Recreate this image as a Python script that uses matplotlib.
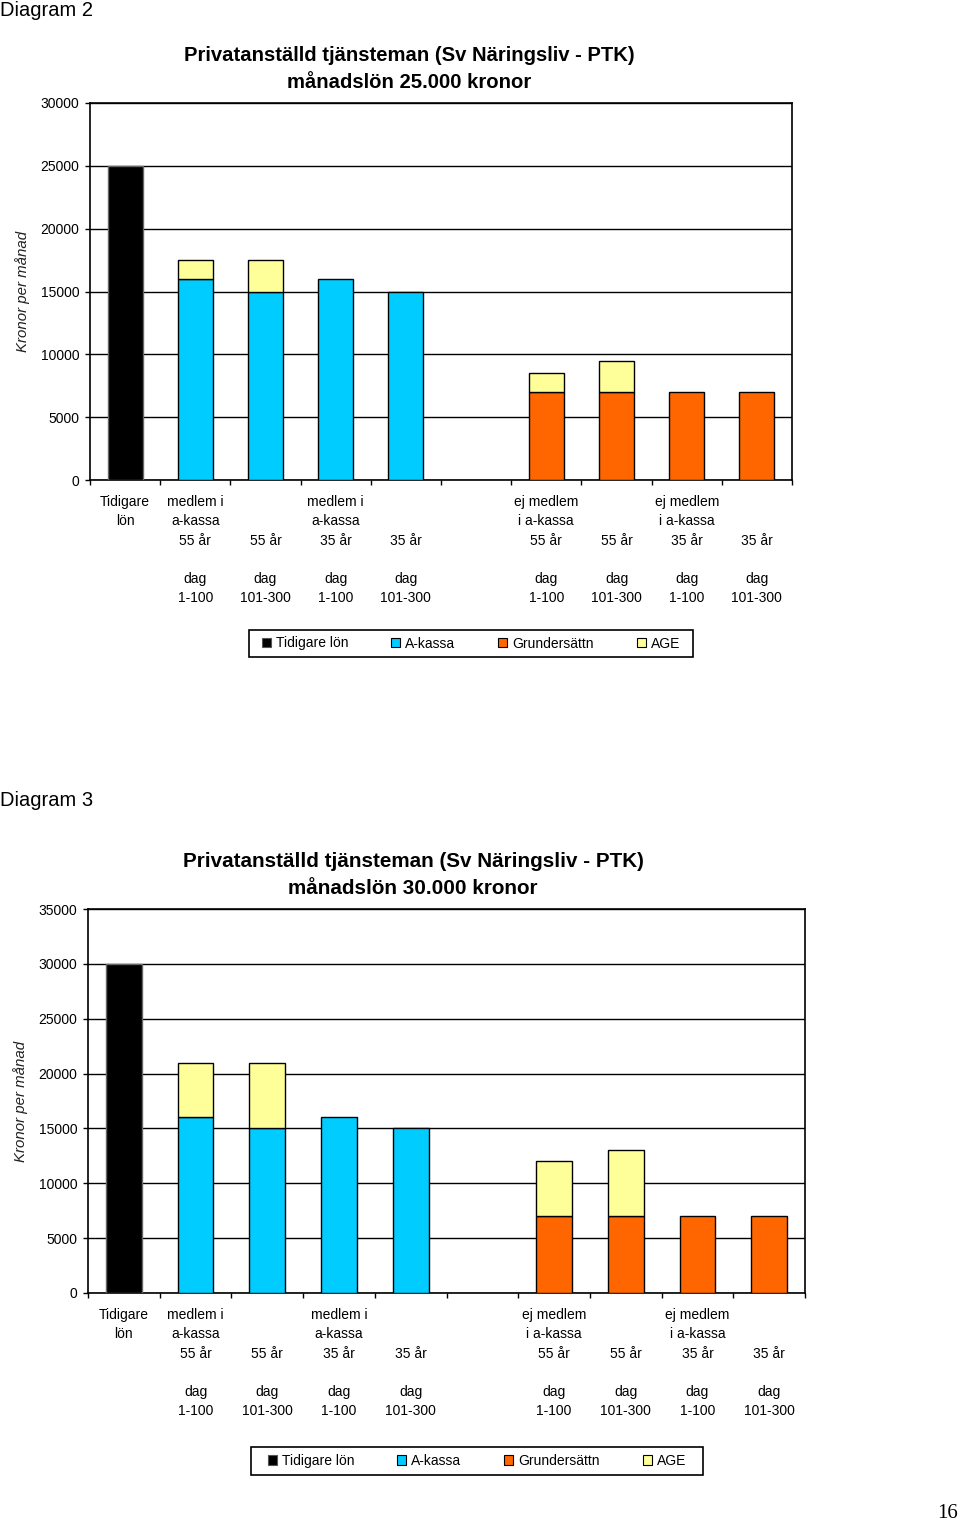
import numpy as np
import matplotlib
matplotlib.use("Agg")
import matplotlib.pyplot as plt
from matplotlib.patches import Patch, Rectangle

plt.rcParams["font.family"] = ["Liberation Sans", "DejaVu Sans"]

# slot labels (slot 6 is an empty gap in the original chart)
slot_labels = [
    "Tidigare\nlön\n\n\n\n",
    "medlem i\na-kassa\n55 år\n\ndag\n1-100",
    "\n\n55 år\n\ndag\n101-300",
    "medlem i\na-kassa\n35 år\n\ndag\n1-100",
    "\n\n35 år\n\ndag\n101-300",
    "",
    "ej medlem\ni a-kassa\n55 år\n\ndag\n1-100",
    "\n\n55 år\n\ndag\n101-300",
    "ej medlem\ni a-kassa\n35 år\n\ndag\n1-100",
    "\n\n35 år\n\ndag\n101-300",
]
series_names = ["Tidigare lön", "A-kassa", "Grundersättn", "AGE"]
series_colors = ["#000000", "#00CCFF", "#FF6600", "#FFFF99"]

# Diagram 2: monthly salary 25 000
d2_tidigare = [25000, 0, 0, 0, 0, 0, 0, 0, 0, 0]
d2_akassa = [0, 16000, 15000, 16000, 15000, 0, 0, 0, 0, 0]
d2_grund = [0, 0, 0, 0, 0, 0, 7000, 7000, 7000, 7000]
d2_age = [0, 1500, 2500, 0, 0, 0, 1500, 2500, 0, 0]

# Diagram 3: monthly salary 30 000
d3_tidigare = [30000, 0, 0, 0, 0, 0, 0, 0, 0, 0]
d3_akassa = [0, 16000, 15000, 16000, 15000, 0, 0, 0, 0, 0]
d3_grund = [0, 0, 0, 0, 0, 0, 7000, 7000, 7000, 7000]
d3_age = [0, 5000, 6000, 0, 0, 0, 5000, 6000, 0, 0]

W, H = 960, 1524
fig = plt.figure(figsize=(W / 100, H / 100), dpi=100)


def px_rect(left, top, right, bottom):
    return [left / W, 1 - bottom / H, (right - left) / W, (bottom - top) / H]


def draw_chart(rect, series, ymax, title, title_xy, title_size, heading, heading_y, legend_px):
    ax = fig.add_axes(px_rect(*rect))
    x = np.arange(len(slot_labels))
    bottom = np.zeros(len(x))
    for values, color, name in zip(series, series_colors, series_names):
        v = np.array(values, dtype=float)
        m = v > 0
        edge = "#666666" if name == "Tidigare lön" else "black"
        ax.bar(x[m], v[m], bottom=bottom[m], width=0.5, color=color,
               edgecolor=edge, linewidth=1.0, zorder=3)
        bottom += v

    ax.set_xlim(-0.5, len(x) - 0.5)
    ax.set_ylim(0, ymax)
    ax.set_yticks(np.arange(0, ymax + 1, 5000))
    ax.set_yticklabels([str(t) for t in range(0, ymax + 1, 5000)], fontsize=10)
    ax.yaxis.grid(True, color="black", linewidth=1.0, zorder=0)
    ax.tick_params(axis="y", direction="out", length=3.5, width=1, pad=4)

    ax.set_xticks(x)
    ax.set_xticklabels(slot_labels, fontsize=10, linespacing=1.47, va="top")
    ax.set_xticks(np.arange(-0.5, len(x)), minor=True)
    ax.tick_params(axis="x", which="major", length=0, pad=11)
    ax.tick_params(axis="x", which="minor", direction="out", length=3.5, width=1)
    for s in ax.spines.values():
        s.set_linewidth(1.2)
        s.set_color("black")

    ax.set_ylabel("Kronor per månad", fontsize=10.8, style="italic", color="#222222", labelpad=8)

    fig.text(title_xy[0] / W, 1 - title_xy[1] / H, title, ha="center", va="center",
             fontsize=title_size, fontweight="bold", linespacing=1.55)
    fig.text(0.0, 1 - heading_y / H, heading, ha="left", va="center", fontsize=14.5)

    # legend with a plain rectangular frame
    l, t, r, b = legend_px
    fig.patches.append(Rectangle((l / W, 1 - b / H), (r - l) / W, (b - t) / H,
                                 transform=fig.transFigure, fill=False,
                                 edgecolor="black", linewidth=1.2))
    handles = [Patch(facecolor=c, edgecolor="#555555" if i == 0 else "black", linewidth=0.8)
               for i, c in enumerate(series_colors)]
    fig.legend(handles, series_names, loc="center",
               bbox_to_anchor=((l + r) / 2 / W, 1 - (t + b) / 2 / H),
               ncol=4, fontsize=10, frameon=False,
               handlelength=0.65, handleheight=0.65, handletextpad=0.35,
               columnspacing=3.1)
    return ax


draw_chart((90, 103, 792, 480),
           [d2_tidigare, d2_akassa, d2_grund, d2_age], 30000,
           "Privatanställd tjänsteman (Sv Näringsliv - PTK)\nmånadslön 25.000 kronor",
           (409, 69), 14.6, "Diagram 2", 10, (249, 630, 693, 657))

draw_chart((88, 909, 805, 1293),
           [d3_tidigare, d3_akassa, d3_grund, d3_age], 35000,
           "Privatanställd tjänsteman (Sv Näringsliv - PTK)\nmånadslön 30.000 kronor",
           (413, 875), 14.9, "Diagram 3", 800, (251, 1447, 703, 1475))

fig.text(948 / W, 1 - 1514 / H, "16", ha="center", va="center", fontsize=15,
         family="Liberation Serif")

fig.savefig("out.png", dpi=100)
